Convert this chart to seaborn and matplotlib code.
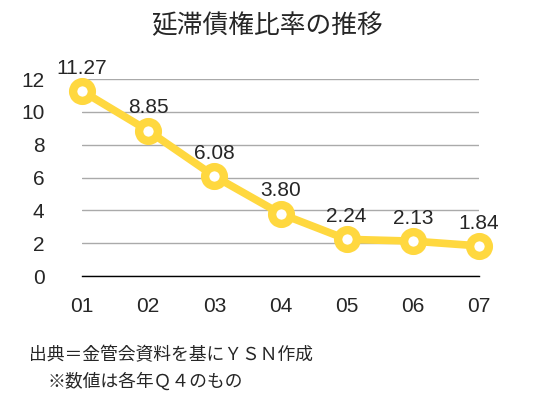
import matplotlib
matplotlib.use('Agg')
import matplotlib.pyplot as plt
import seaborn as sns

# data
years = ['01', '02', '03', '04', '05', '06', '07']
ratios = [11.27, 8.85, 6.08, 3.80, 2.24, 2.13, 1.84]
y_ticks = [0, 2, 4, 6, 8, 10, 12]

title = '延滞債権比率の推移'
source_note = '出典＝金管会資料を基にＹＳＮ作成'
value_note = '※数値は各年Ｑ４のもの'

sns.set_style('white')
plt.rcParams['font.family'] = ['Liberation Sans', 'Noto Sans CJK JP', 'DejaVu Sans']

yellow = '#FFD83F'

fig = plt.figure(figsize=(5.34, 3.99), dpi=100)
ax = fig.add_axes([0.1536, 0.308, 0.7434, 0.494])

sns.lineplot(x=years, y=ratios, ax=ax,
             color=yellow, linewidth=5.5,
             marker='o', markersize=13.5,
             markerfacecolor='white', markeredgecolor=yellow, markeredgewidth=6,
             clip_on=False, zorder=3)

for x, v in zip(years, ratios):
    ax.annotate('%.2f' % v, (x, v), textcoords='offset points', xytext=(0, 12.5),
                ha='center', va='baseline', fontsize=15)

ax.set_xlim(0, len(years) - 1)
ax.set_ylim(0, 12)
ax.set_yticks(y_ticks)
ax.yaxis.grid(True, color='#AAAAAA', linewidth=1)
ax.xaxis.grid(False)
for side in ['top', 'right', 'left']:
    ax.spines[side].set_visible(False)
ax.spines['bottom'].set_color('black')
ax.spines['bottom'].set_linewidth(1)
ax.tick_params(axis='y', length=0, pad=27, labelsize=15)
ax.tick_params(axis='x', length=0, pad=15, labelsize=15)
ax.set_xlabel('')
ax.set_ylabel('')

fig.text(0.5, 0.935, title, ha='center', va='center', fontsize=18.5,
         family=['Noto Sans CJK JP'])
fig.text(29 / 534, 1 - 355 / 399, source_note, ha='left', va='center',
         fontsize=12.8, family=['Noto Sans CJK JP', 'DejaVu Sans'])
fig.text(48 / 534, 1 - 382 / 399, value_note, ha='left', va='center',
         fontsize=12.8, family=['Noto Sans CJK JP', 'DejaVu Sans'])

fig.savefig('out.png', dpi=100)
